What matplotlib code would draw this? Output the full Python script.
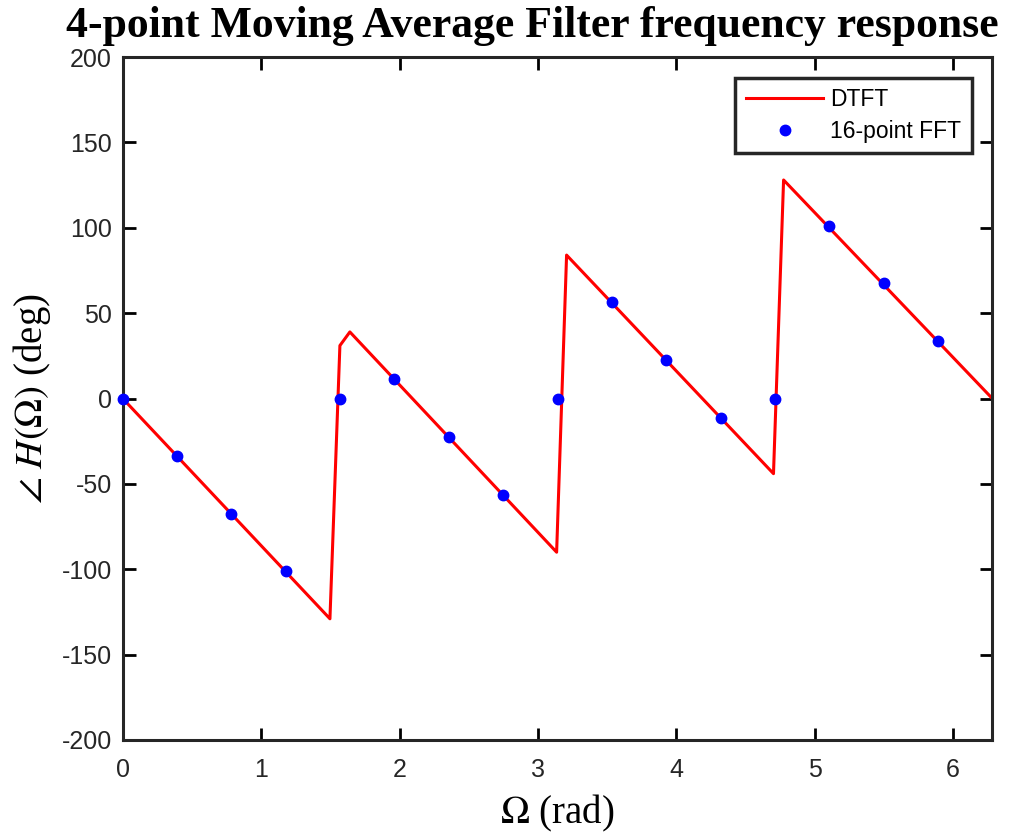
import numpy as np
import matplotlib
matplotlib.use("Agg")
import matplotlib.pyplot as plt

# DTFT phase curve (vertices)
dtft_w = [0, 1.497, 1.569, 1.641, 3.135, 3.207, 4.702, 4.775, 2 * np.pi]
dtft_deg = [0, -129, 31, 39, -90, 84, -44, 128, 0]

# 16-point FFT samples
fft_k = np.arange(16)
fft_deg = [0, -33.75, -67.5, -101.25, 0, 11.25, -22.5, -56.25,
           0, 56.25, 22.5, -11.25, 0, 101.25, 67.5, 33.75]
fft_w = 2 * np.pi * fft_k / 16

plt.rcParams['mathtext.fontset'] = 'stix'
plt.rcParams['axes.unicode_minus'] = False
plt.rcParams['font.family'] = ['Liberation Sans', 'DejaVu Sans']

fig = plt.figure(figsize=(10.23, 8.39), dpi=100)
ax = fig.add_axes([0.120, 0.118, 0.850, 0.814])

ax.plot(dtft_w, dtft_deg, color='red', lw=2.2, label='DTFT')
ax.plot(fft_w, fft_deg, 'o', color='blue', ms=7.5, label='16-point FFT', clip_on=False, zorder=3)

ax.set_xlim(0, 2 * np.pi)
ax.set_ylim(-200, 200)
ax.set_xticks([0, 1, 2, 3, 4, 5, 6])
ax.set_yticks(np.arange(-200, 201, 50))
ax.tick_params(direction='in', length=9, width=2, labelsize=18, top=True, right=True,
               labelcolor='#262626')
ax.tick_params(axis='x', pad=13)
ax.tick_params(axis='y', pad=8)
for s in ax.spines.values():
    s.set_linewidth(2.2)
    s.set_color('#262626')

# title sits a bit left of the axes centre, as in the original
fig.text(532 / 1023, 1 - 26 / 839, '4-point Moving Average Filter frequency response',
         fontsize=31.5, fontweight='bold', family='Liberation Serif',
         ha='center', va='center')
ax.set_xlabel(r'$\Omega$ (rad)', fontsize=28, family='Liberation Serif', labelpad=8)
ax.set_ylabel(r'$\angle\ H(\Omega)$ (deg)', fontsize=28, family='Liberation Serif', labelpad=6)

leg = ax.legend(loc='upper right', fontsize=16.5, fancybox=False, framealpha=1,
                edgecolor='#262626', handlelength=3.4, borderaxespad=0.9,
                borderpad=0.45, labelspacing=0.4, handletextpad=0.3)
leg.get_frame().set_linewidth(2.5)

fig.savefig('out.png', dpi=100)
